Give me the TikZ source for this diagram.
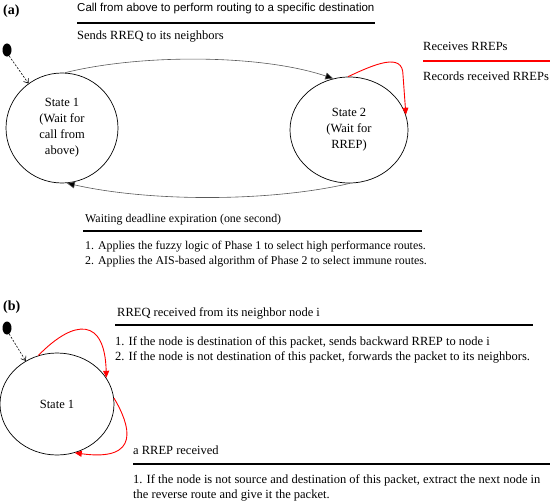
\documentclass[tikz,border=0pt]{standalone}
\usepackage{fontspec}
\setmainfont{Liberation Serif}
\newfontfamily\arialfont{Liberation Sans}
\usetikzlibrary{shapes.geometric,arrows.meta}
\begin{document}
\begin{tikzpicture}[x=1pt,y=-1pt,
  statebox/.style={draw=black,line width=0.7pt,ellipse,inner sep=0pt,align=center,
    font=\fontsize{12.5}{16}\selectfont},
  txt/.style={anchor=base west,inner sep=0pt,font=\fontsize{12.5}{15}\selectfont},
  txts/.style={anchor=base west,inner sep=0pt,font=\fontsize{11.9}{15}\selectfont},
  rulebar/.style={line width=1.5pt,black},
  redrule/.style={line width=1.5pt,red},
  graylink/.style={draw=black!65,line width=0.6pt,-{Triangle[length=8pt,width=7pt,fill=black]}},
  redlink/.style={draw=red,line width=0.9pt,-{Triangle[length=7pt,width=6pt,fill=red]}},
  initlink/.style={draw=black,line width=0.6pt,dashed,dash pattern=on 2pt off 1.5pt,-{Straight Barb[length=4pt,width=6pt]}},
  dotnode/.style={ellipse,fill=black,inner sep=0pt,minimum width=9pt,minimum height=13pt}
]
\useasboundingbox (0,0) rectangle (553,503);

% ---------- (a) ----------
\node[anchor=base west,inner sep=0pt,font=\fontsize{14}{14}\selectfont\bfseries] (la) at (3,15) {(a)};
\node[anchor=base west,inner sep=0pt,font=\arialfont\fontsize{11.5}{14}\selectfont] (tcall) at (77,12) {Call from above to perform routing to a specific destination};
\draw[rulebar] (77,23) -- (375,23);
\node[txt] (tsend) at (77,40) {Sends RREQ to its neighbors};

\node[txt] (trecv) at (423,51) {Receives RREPs};
\draw[redrule] (423,61) -- (550,61);
\node[txt] (trec) at (423,80) {Records received RREPs};

\node[dotnode] (dota) at (7,50) {};
\node[statebox,minimum width=112pt,minimum height=110pt] (s1) at (62,128) {State 1\\(Wait for\\call from\\above)};
\node[statebox,minimum width=118pt,minimum height=106pt] (s2) at (349,130) {State 2\\(Wait for\\RREP)};

\draw[initlink] (dota.-70) -- (s1.127);
\draw[graylink] (s1.87) .. controls (140,54) and (260,54) .. (s2.107);
\draw[graylink] (s2.-89) .. controls (270,202) and (150,202) .. (s1.-85);
\draw[redlink] (s2.91) .. controls (375,64) and (403,52) .. (403,75) -- (s2.15);

\node[txts] (twait) at (85,222) {Waiting deadline expiration (one second)};
\draw[rulebar] (83,231) -- (422,231);
\node[txts] (ta1) at (85,249) {1. Applies the fuzzy logic of Phase 1 to select high performance routes.};
\node[txts] (ta2) at (85,264) {2. Applies the AIS-based algorithm of Phase 2 to select immune routes.};

% ---------- (b) ----------
\node[anchor=base west,inner sep=0pt,font=\fontsize{14}{14}\selectfont\bfseries] (lb) at (3,310) {(b)};
\node[txt] (trreq) at (117,316) {RREQ received from its neighbor node i};
\draw[rulebar] (115,325) -- (533,325);
\node[txt] (tb1) at (115,345) {1. If the node is destination of this packet, sends backward RREP to node i};
\node[txt] (tb2) at (115,360) {2. If the node is not destination of this packet, forwards the packet to its neighbors.};

\node[dotnode] (dotb) at (7,328) {};
\node[statebox,minimum width=114pt,minimum height=102pt] (s1b) at (57,404) {State 1};

\draw[initlink] (dotb.-70) -- (s1b.126);
\draw[redlink] (s1b.111) .. controls (75,318) and (105,318) .. (s1b.28);
\draw[redlink] (s1b.6) .. controls (130,425) and (142,462) .. (s1b.-70);

\node[txt] (trrep) at (133,454) {a RREP received};
\draw[rulebar] (133,464) -- (550,464);
\node[txt] (tc1) at (133,483) {1. If the node is not source and destination of this packet, extract the next node in};
\node[txt] (tc2) at (133,498) {the reverse route and give it the packet.};
\end{tikzpicture}
\end{document}
